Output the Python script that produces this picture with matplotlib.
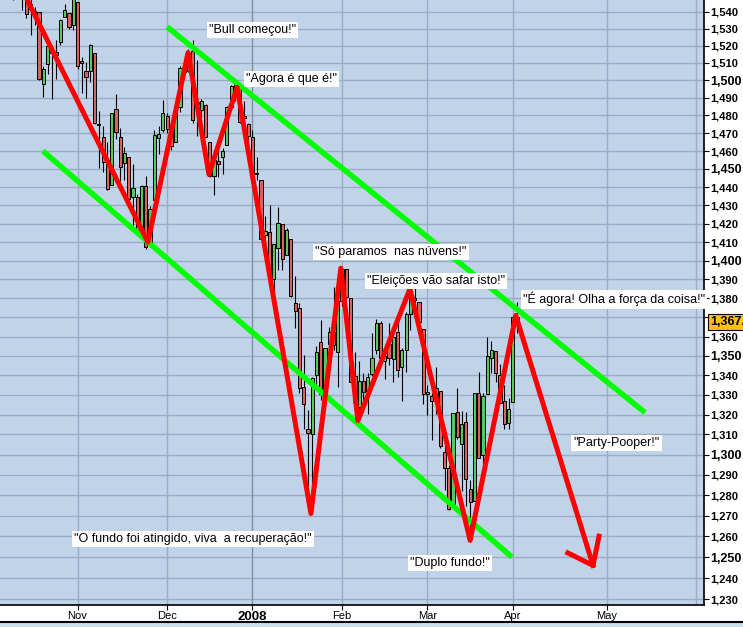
import matplotlib

matplotlib.use("Agg")
import matplotlib.pyplot as plt
from matplotlib import font_manager
from matplotlib.lines import Line2D
from matplotlib.patches import Rectangle
from matplotlib.ticker import FixedLocator, NullLocator

# daily candles, Oct 10 2007 .. Apr 2 2008 (index 0 = Nov 1)
dates = [
    "10-10", "10-11", "10-12", "10-15", "10-16", "10-17", "10-18", "10-19", "10-22", "10-23",
    "10-24", "10-25", "10-26", "10-29", "10-30", "10-31",
    "11-01", "11-02", "11-05", "11-06", "11-07", "11-08", "11-09", "11-12", "11-13", "11-14",
    "11-15", "11-16", "11-19", "11-20", "11-21", "11-23", "11-26", "11-27", "11-28", "11-29", "11-30",
    "12-03", "12-04", "12-05", "12-06", "12-07", "12-10", "12-11", "12-12", "12-13", "12-14",
    "12-17", "12-18", "12-19", "12-20", "12-21", "12-24", "12-26", "12-27", "12-28", "12-31",
    "01-02", "01-03", "01-04", "01-07", "01-08", "01-09", "01-10", "01-11", "01-14", "01-15",
    "01-16", "01-17", "01-18", "01-22", "01-23", "01-24", "01-25", "01-28", "01-29", "01-30", "01-31",
    "02-01", "02-04", "02-05", "02-06", "02-07", "02-08", "02-11", "02-12", "02-13", "02-14",
    "02-15", "02-19", "02-20", "02-21", "02-22", "02-25", "02-26", "02-27", "02-28", "02-29",
    "03-03", "03-04", "03-05", "03-06", "03-07", "03-10", "03-11", "03-12", "03-13", "03-14",
    "03-17", "03-18", "03-19", "03-20", "03-24", "03-25", "03-26", "03-27", "03-28", "03-31",
    "04-01", "04-02",
]
opens = [
    1565.0, 1564.7, 1555.4, 1562.3, 1547.8, 1544.4, 1539.3, 1540.0, 1497.8, 1509.3,
    1516.6, 1516.2, 1522.2, 1536.9, 1539.4, 1532.2,
    1545.8, 1511.1, 1505.6, 1505.3, 1515.5, 1475.3, 1467.6, 1453.7, 1441.4, 1483.4,
    1468.0, 1453.1, 1456.7, 1434.5, 1434.7, 1417.6, 1440.7, 1409.6, 1433.0, 1467.4, 1471.8,
    1479.6, 1471.3, 1465.2, 1484.6, 1508.6, 1505.1, 1516.7, 1487.6, 1483.3, 1486.2,
    1465.1, 1445.9, 1454.7, 1456.4, 1463.2, 1484.6, 1495.1, 1495.1, 1479.8, 1475.3,
    1468.0, 1447.6, 1444.0, 1414.1, 1415.7, 1390.3, 1406.8, 1419.9, 1402.9, 1411.9,
    1377.4, 1374.8, 1333.9, 1312.9, 1310.4, 1340.1, 1357.3, 1330.7, 1355.9, 1362.2, 1352.0,
    1378.6, 1395.4, 1380.3, 1339.5, 1324.0, 1336.9, 1331.9, 1340.6, 1353.1, 1367.3,
    1347.5, 1355.9, 1348.4, 1362.2, 1344.2, 1352.8, 1371.8, 1379.0, 1378.2, 1364.1,
    1330.5, 1329.6, 1327.7, 1332.2, 1301.5, 1293.2, 1274.4, 1321.1, 1305.3, 1316.1,
    1283.2, 1277.2, 1331.0, 1299.7, 1330.3, 1349.1, 1352.5, 1340.3, 1327.0, 1315.9,
    1326.4, 1370.0,
]
highs = [
    1565.4, 1576.1, 1563.0, 1564.7, 1547.8, 1550.7, 1542.8, 1540.0, 1508.1, 1520.0,
    1517.2, 1523.2, 1535.5, 1544.7, 1539.4, 1552.8,
    1545.8, 1513.2, 1510.8, 1520.8, 1515.5, 1482.5, 1474.1, 1464.9, 1481.4, 1492.1,
    1472.7, 1462.2, 1456.7, 1452.6, 1436.4, 1440.9, 1446.1, 1429.5, 1471.6, 1473.8, 1488.9,
    1481.2, 1471.3, 1486.1, 1508.0, 1510.6, 1518.3, 1523.6, 1512.0, 1489.4, 1486.7,
    1465.1, 1460.2, 1464.4, 1461.5, 1485.4, 1497.6, 1498.9, 1495.1, 1488.0, 1475.8,
    1471.8, 1456.8, 1444.0, 1423.9, 1430.3, 1409.2, 1429.1, 1419.9, 1417.9, 1411.9,
    1392.0, 1377.7, 1350.3, 1322.1, 1339.1, 1355.2, 1368.6, 1354.0, 1364.9, 1385.9, 1385.6,
    1396.0, 1395.4, 1380.3, 1352.0, 1347.2, 1341.2, 1341.4, 1362.1, 1369.2, 1368.2,
    1350.0, 1367.3, 1363.7, 1367.9, 1354.3, 1372.7, 1387.3, 1388.3, 1378.2, 1364.1,
    1335.1, 1331.0, 1344.2, 1332.2, 1313.2, 1295.0, 1320.7, 1333.3, 1321.7, 1321.5,
    1287.5, 1330.7, 1341.5, 1330.7, 1359.7, 1357.5, 1352.5, 1345.6, 1334.9, 1328.5,
    1370.2, 1378.0,
]
lows = [
    1555.5, 1546.7, 1554.1, 1540.8, 1536.3, 1526.0, 1531.8, 1500.3, 1490.4, 1503.6,
    1489.6, 1500.5, 1520.2, 1536.9, 1529.6, 1529.4,
    1506.7, 1492.5, 1490.0, 1499.1, 1475.0, 1450.3, 1448.5, 1438.5, 1441.4, 1466.5,
    1443.5, 1444.0, 1430.4, 1419.3, 1415.6, 1417.6, 1406.1, 1407.4, 1433.0, 1458.4, 1470.9,
    1470.1, 1460.7, 1465.2, 1482.2, 1502.7, 1505.0, 1476.0, 1468.2, 1469.2, 1467.8,
    1445.4, 1435.7, 1445.3, 1447.2, 1463.2, 1484.6, 1488.2, 1475.9, 1471.7, 1465.1,
    1442.1, 1443.7, 1411.2, 1403.5, 1388.3, 1378.7, 1395.3, 1394.8, 1402.9, 1380.6,
    1364.3, 1330.7, 1312.5, 1274.0, 1272.0, 1334.3, 1327.5, 1322.3, 1350.2, 1353.0, 1334.1,
    1375.9, 1379.7, 1336.6, 1324.3, 1316.8, 1321.1, 1320.3, 1339.4, 1350.8, 1347.3,
    1338.1, 1345.1, 1336.6, 1339.3, 1327.0, 1341.7, 1363.3, 1372.0, 1363.2, 1325.4,
    1320.0, 1307.4, 1320.2, 1303.4, 1282.4, 1272.7, 1274.4, 1307.9, 1282.1, 1274.9,
    1257.0, 1277.2, 1298.4, 1295.2, 1330.3, 1341.2, 1336.4, 1325.7, 1313.0, 1312.8,
    1326.4, 1361.6,
]
closes = [
    1562.5, 1554.4, 1561.8, 1548.7, 1538.5, 1541.2, 1540.1, 1500.6, 1506.3, 1519.6,
    1515.9, 1514.4, 1535.3, 1541.0, 1531.0, 1549.4,
    1508.4, 1509.7, 1502.2, 1520.3, 1475.6, 1474.8, 1453.7, 1439.2, 1481.1, 1470.6,
    1451.2, 1458.7, 1433.3, 1439.7, 1416.8, 1440.7, 1407.2, 1428.2, 1469.0, 1469.7, 1481.1,
    1472.4, 1462.8, 1485.0, 1507.3, 1504.7, 1516.0, 1477.7, 1486.6, 1488.4, 1468.0,
    1445.9, 1455.0, 1453.0, 1460.1, 1484.5, 1496.5, 1497.7, 1476.3, 1478.5, 1468.4,
    1447.2, 1447.2, 1411.6, 1416.2, 1390.2, 1409.1, 1420.3, 1401.0, 1416.3, 1381.0,
    1373.2, 1333.3, 1325.2, 1310.5, 1338.6, 1352.1, 1330.6, 1354.0, 1362.3, 1355.8, 1378.6,
    1395.4, 1380.8, 1336.6, 1326.5, 1336.9, 1331.3, 1339.1, 1348.9, 1367.2, 1348.9,
    1350.0, 1348.8, 1360.0, 1342.5, 1353.1, 1371.8, 1381.3, 1380.0, 1367.7, 1330.6,
    1331.3, 1326.8, 1333.7, 1304.3, 1293.4, 1273.4, 1320.7, 1308.8, 1315.5, 1288.1,
    1276.6, 1330.7, 1298.4, 1329.5, 1349.9, 1353.0, 1341.1, 1325.8, 1315.2, 1322.7,
    1370.2, 1367.5,
]
last_price = 1367.5

# trading-day offsets of month starts (Nov .. Jun)
month_ticks = [0, 21, 41, 62, 82, 102, 124, 145]
month_labels = ["Nov", "Dec", "2008", "Feb", "Mar", "Apr", "May", ""]
price_ticks = list(range(1230, 1541, 10))

# hand drawn lines, (trading day, price)
zigzag_x = [-11.8, 16.5, 25.9, 30.8, 37.4, 54.7, 61.7, 65.7, 77.9, 92.0, 102.7, 120.8]
zigzag_y = [1547, 1410, 1516, 1447, 1496, 1271, 1396, 1317, 1385, 1258, 1371, 1246]
arrow_wing_x = [114.9, 120.8, 122.2]
arrow_wing_y = [1252, 1246, 1260]
upper_channel_x = [21.0, 133.0]
upper_channel_y = [1531, 1321]
lower_channel_x = [-8.1, 101.8]
lower_channel_y = [1460, 1250]

# (text, left px, centre px from top)
notes = [
    ('"Bull começou!"', 209, 30),
    ('"Agora é que é!"', 246, 79),
    ('"Só paramos  nas núvens!"', 315, 252),
    ('"Eleições vão safar isto!"', 367, 281),
    ('"É agora! Olha a força da coisa!"', 523, 299),
    ('"Party-Pooper!"', 573, 443),
    ('"O fundo foi atingido, viva  a recuperação!"', 74, 539),
    ('"Duplo fundo!"', 410, 563),
]

installed = {f.name for f in font_manager.fontManager.ttflist}
HAS_NARROW = "Liberation Sans Narrow" in installed
NARROW = ["Liberation Sans Narrow", "Liberation Sans", "DejaVu Sans"]
PLAIN = ["Liberation Sans", "DejaVu Sans"]
small_size, big_size = (9.5, 10.5) if HAS_NARROW else (8.0, 9.0)
W, H = 743, 627

fig = plt.figure(figsize=(W / 100, H / 100), dpi=100)
fig.patch.set_facecolor("white")
ax = fig.add_axes([0.0, (H - 605) / H, 704 / W, 605 / H])
ax.set_facecolor("#c1d3e8")

start = dates.index("11-01")
xs = [i - start for i in range(len(dates))]

ax.vlines(xs, lows, highs, color="black", linewidth=0.8, zorder=2)
for x, o, c in zip(xs, opens, closes):
    color = "#5bc65b" if c >= o else "#d9635c"
    bottom = min(o, c)
    height = max(abs(c - o), 0.4)
    ax.bar(x, height, bottom=bottom, width=0.75, color=color, edgecolor="black",
           linewidth=0.7, zorder=3)

ax.plot(lower_channel_x, lower_channel_y, color="#00ff00", linewidth=4, solid_capstyle="butt", zorder=4)
ax.plot(upper_channel_x, upper_channel_y, color="#00ff00", linewidth=4, solid_capstyle="butt", zorder=4)
ax.plot(zigzag_x, zigzag_y, color="#ff0000", linewidth=3.6, zorder=5)
ax.plot(arrow_wing_x, arrow_wing_y, color="#ff0000", linewidth=3.6, zorder=5)

ax.set_yscale("log")
ax.set_ylim(1227.3, 1546.8)
ax.set_xlim(-18.16, 146.8)

ax.yaxis.set_major_locator(FixedLocator(price_ticks))
ax.yaxis.set_minor_locator(NullLocator())
ax.set_yticklabels([f"{v:,}" for v in price_ticks])
ax.yaxis.tick_right()
ax.tick_params(axis="y", which="major", direction="out", length=3.5, width=0.8, pad=1)
for v, lab in zip(price_ticks, ax.get_yticklabels()):
    lab.set_family(NARROW)
    lab.set_fontweight("bold")
    lab.set_fontsize(big_size if v % 50 == 0 else small_size)

ax.set_xticks(month_ticks[:-1])
ax.set_xticklabels(month_labels[:-1])
ax.tick_params(axis="x", direction="out", length=3.5, width=0.8, pad=0.5)
for lab in ax.get_xticklabels():
    lab.set_family(NARROW)
    if lab.get_text() == "2008":
        lab.set_fontweight("bold")
        lab.set_fontsize(9.5)
    else:
        lab.set_fontsize(8)

ax.grid(False)
for v in price_ticks:
    ax.axhline(v, color="#9aadc4", linewidth=1.0, zorder=1)
for m, lab in zip(month_ticks, month_labels):
    ax.axvline(m, color="#7f8ea3" if lab == "2008" else "#9aadc4", linewidth=1.0, zorder=1)

for side in ("top", "left"):
    ax.spines[side].set_visible(False)
ax.spines["right"].set_linewidth(1.2)
ax.spines["bottom"].set_linewidth(1.2)

ax.annotate(
    f"{last_price:,.1f}", xy=(1.0, last_price), xycoords=("axes fraction", "data"),
    xytext=(6, 0), textcoords="offset pixels", ha="left", va="center",
    family=NARROW, fontweight="bold", fontsize=big_size, annotation_clip=False, zorder=10,
    bbox=dict(boxstyle="square,pad=0.15", fc="#ffc20e", ec="black", lw=0.8),
)

for text, left, mid in notes:
    ax.annotate(
        text, xy=(left, H - mid), xycoords="figure pixels", ha="left", va="center",
        family=PLAIN, fontsize=9, zorder=6,
        bbox=dict(boxstyle="square,pad=0.18", fc="white", ec="none"),
    )

fig.add_artist(Line2D([0, 1], [(H - 622) / H] * 2, transform=fig.transFigure, color="black", linewidth=1.5))
fig.add_artist(Rectangle((0, 0), 1, (H - 623) / H, transform=fig.transFigure, facecolor="#c9e1ee",
                         edgecolor="none"))

fig.savefig("out.png", dpi=100)
plt.close(fig)
